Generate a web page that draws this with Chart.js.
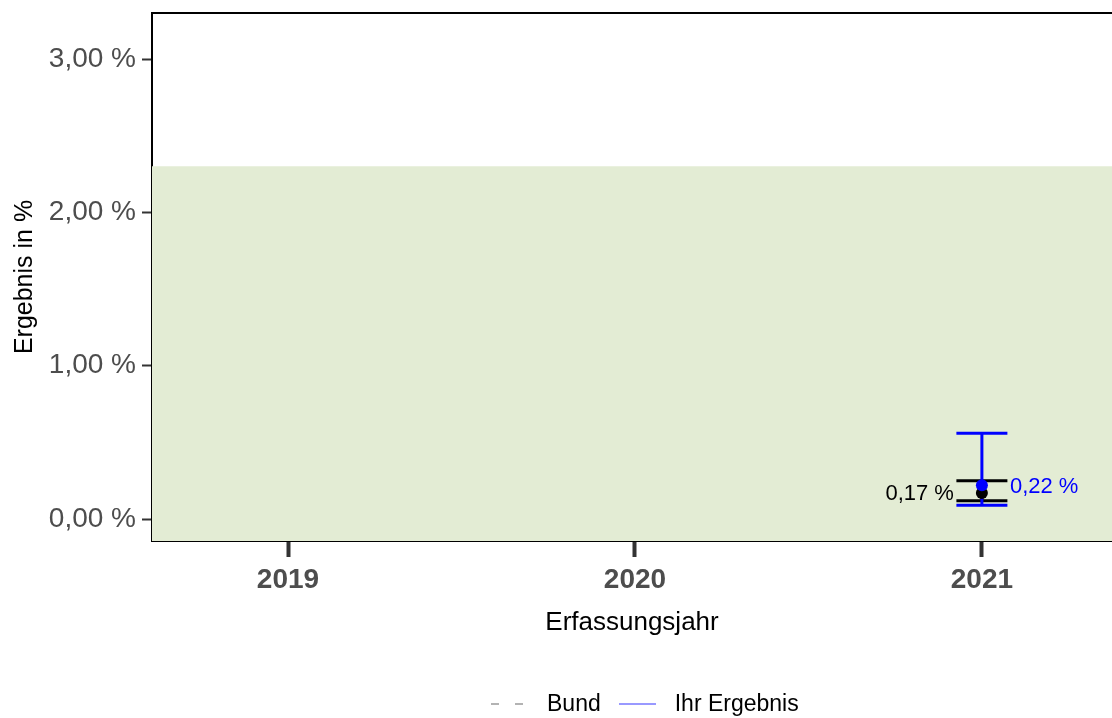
<!DOCTYPE html>
<html lang="de">
<head>
<meta charset="UTF-8">
<title>Ergebnis in %</title>
<script src="https://cdn.jsdelivr.net/npm/chart.js"></script>
<style>
  body { margin: 0; background: #fff; font-family: "Liberation Sans", Arial, sans-serif; }
  #wrap { position: relative; width: 1112px; height: 718px; overflow: hidden; }
  #legende { position: absolute; left: 491px; top: 690px; display: flex; align-items: center; font-size: 23px; color: #000; }
  #legende .b { margin: 0 18px 0 24px; }
  #legende .i { margin: 0 0 0 19px; }
</style>
</head>
<body>
<div id="wrap">
  <canvas id="chart" width="1112" height="718"></canvas>
  <div id="legende">
    <svg width="32" height="4"><line x1="0" y1="2" x2="32" y2="2" stroke="#b3b3b3" stroke-width="2" stroke-dasharray="8,16"/></svg><span class="b">Bund</span>
    <svg width="37" height="4"><line x1="0" y1="2" x2="37" y2="2" stroke="#9999ff" stroke-width="2"/></svg><span class="i">Ihr Ergebnis</span>
  </div>
</div>
<script>
// Daten
const jahre = [2019, 2020, 2021];
const ergebnisJahr = [2021];
const ihrErgebnis = [0.22];
const ihrUnten = [0.09];
const ihrOben = [0.56];
const bundErgebnis = [0.17];
const bundUnten = [0.12];
const bundOben = [0.25];
const referenzOben = 2.30;
const yTicks = [0, 1, 2, 3];

const xMin = 2018.608, xMax = 2021.375;
const yMin = -0.143, yMax = 3.30;

const fmt = v => v.toFixed(2).replace('.', ',') + ' %';
const schrift = '"Liberation Sans", Arial, sans-serif';

// Fehlerbalken und Beschriftungen über die Skalen zeichnen
const fehlerbalken = {
  id: 'fehlerbalken',
  afterDatasetDraw(chart, args) {
    if (args.index !== 0) return; // direkt nach dem Referenzbereich
    const { ctx, scales: { x, y } } = chart;
    const cap = 25.5;
    const zeichne = (xs, lo, hi, farbe) => {
      ctx.save();
      ctx.strokeStyle = farbe;
      ctx.lineWidth = 3;
      xs.forEach((jahr, i) => {
        const px = x.getPixelForValue(jahr);
        const pLo = y.getPixelForValue(lo[i]);
        const pHi = y.getPixelForValue(hi[i]);
        ctx.beginPath();
        ctx.moveTo(px - cap, pLo); ctx.lineTo(px + cap, pLo);
        ctx.moveTo(px - cap, pHi); ctx.lineTo(px + cap, pHi);
        ctx.moveTo(px, pLo); ctx.lineTo(px, pHi);
        ctx.stroke();
      });
      ctx.restore();
    };
    zeichne(ergebnisJahr, bundUnten, bundOben, '#000000');
    zeichne(ergebnisJahr, ihrUnten, ihrOben, '#0000ff');
  },
  afterDatasetsDraw(chart) {
    const { ctx, scales: { x, y } } = chart;
    ctx.save();
    ctx.font = '22px ' + schrift;
    ctx.textBaseline = 'middle';
    ergebnisJahr.forEach((jahr, i) => {
      const px = x.getPixelForValue(jahr);
      ctx.fillStyle = '#000000';
      ctx.textAlign = 'right';
      ctx.fillText(fmt(bundErgebnis[i]), px - 28, y.getPixelForValue(bundErgebnis[i]) + 1);
      ctx.fillStyle = '#0000ff';
      ctx.textAlign = 'left';
      ctx.fillText(fmt(ihrErgebnis[i]), px + 28, y.getPixelForValue(ihrErgebnis[i]) + 2);
    });
    ctx.restore();
  }
};

const ohneRand = s => { s.paddingLeft = 0; s.paddingRight = 0; s.paddingTop = 0; s.paddingBottom = 0; };

new Chart(document.getElementById('chart'), {
  type: 'scatter',
  data: {
    datasets: [
      {
        label: 'Referenzbereich',
        type: 'line',
        data: [{ x: xMin, y: referenzOben }, { x: xMax, y: referenzOben }],
        borderWidth: 0,
        pointRadius: 0,
        fill: 'start',
        backgroundColor: '#e3ecd4',
        order: 3
      },
      {
        label: 'Bund',
        data: ergebnisJahr.map((j, i) => ({ x: j, y: bundErgebnis[i] })),
        backgroundColor: '#000000',
        borderWidth: 0,
        pointRadius: 6,
        order: 2
      },
      {
        label: 'Ihr Ergebnis',
        data: ergebnisJahr.map((j, i) => ({ x: j, y: ihrErgebnis[i] })),
        backgroundColor: '#0000ff',
        borderWidth: 0,
        pointRadius: 6,
        order: 1
      }
    ]
  },
  options: {
    responsive: false,
    animation: false,
    layout: { autoPadding: false, padding: { top: 13, bottom: 60, left: 0, right: 0 } },
    plugins: { legend: { display: false }, tooltip: { enabled: false } },
    scales: {
      x: {
        type: 'linear',
        z: 1,
        min: xMin,
        max: xMax,
        afterBuildTicks: s => { s.ticks = jahre.map(v => ({ value: v })); },
        afterFit: s => { s.height = 117; ohneRand(s); },
        ticks: {
          color: '#4d4d4d',
          font: { family: schrift, size: 28, weight: 'bold' },
          padding: 6,
          maxRotation: 0,
          callback: v => String(v)
        },
        grid: { drawOnChartArea: false, drawTicks: true, tickLength: 16, tickWidth: 4, tickColor: '#333333' },
        border: { display: true, color: '#000000', width: 2 },
        title: {
          display: true,
          text: 'Erfassungsjahr',
          color: '#000000',
          font: { family: schrift, size: 26 },
          padding: { top: 0, bottom: 20 }
        }
      },
      top: {
        type: 'linear',
        position: 'top',
        z: 1,
        min: xMin,
        max: xMax,
        afterFit: s => { s.height = 0; ohneRand(s); },
        ticks: { display: false },
        grid: { drawOnChartArea: false, drawTicks: false },
        border: { display: true, color: '#000000', width: 2 }
      },
      y: {
        z: 1,
        min: yMin,
        max: yMax,
        afterBuildTicks: s => { s.ticks = yTicks.map(v => ({ value: v })); },
        afterFit: s => { s.width = 152; ohneRand(s); },
        ticks: {
          color: '#4d4d4d',
          font: { family: schrift, size: 28 },
          padding: 6,
          callback: v => fmt(v)
        },
        grid: { drawOnChartArea: false, drawTicks: true, tickLength: 10, tickWidth: 2, tickColor: '#333333' },
        border: { display: true, color: '#000000', width: 2 },
        title: {
          display: true,
          text: 'Ergebnis in %',
          color: '#000000',
          font: { family: schrift, size: 25 },
          padding: { top: 10, bottom: 0 }
        }
      }
    }
  },
  plugins: [fehlerbalken]
});
</script>
</body>
</html>
